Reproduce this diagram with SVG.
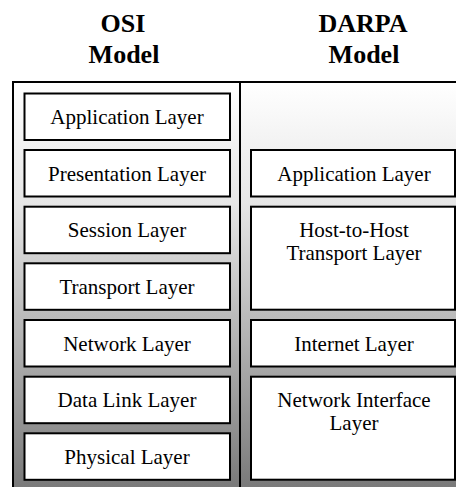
<svg xmlns="http://www.w3.org/2000/svg" width="456" height="487" viewBox="0 0 456 487" font-family="'Liberation Serif', Tinos, 'Times New Roman', serif">
<rect width="456" height="487" fill="#fff"/>
<linearGradient id="bg" x1="0" y1="82" x2="0" y2="487" gradientUnits="userSpaceOnUse">
<stop offset="0" stop-color="#ffffff"/>
<stop offset="0.3" stop-color="#e6e6e6"/>
<stop offset="1" stop-color="#7a7a7a"/>
</linearGradient>
<g id="frame">
<rect x="13" y="82" width="470" height="430" fill="url(#bg)" stroke="#000" stroke-width="2"/>
<line x1="240" y1="82" x2="240" y2="487" stroke="#000" stroke-width="2"/>
</g>
<g id="osi-application"><rect fill="#fff" stroke="#000" stroke-width="2" x="24.5" y="93.5" width="205.5" height="46.5"/></g>
<g id="osi-presentation"><rect fill="#fff" stroke="#000" stroke-width="2" x="24.5" y="150" width="205.5" height="46.5"/></g>
<g id="osi-session"><rect fill="#fff" stroke="#000" stroke-width="2" x="24.5" y="206.7" width="205.5" height="46.5"/></g>
<g id="osi-transport"><rect fill="#fff" stroke="#000" stroke-width="2" x="24.5" y="263.3" width="205.5" height="46.5"/></g>
<g id="osi-network"><rect fill="#fff" stroke="#000" stroke-width="2" x="24.5" y="320" width="205.5" height="46.5"/></g>
<g id="osi-datalink"><rect fill="#fff" stroke="#000" stroke-width="2" x="24.5" y="376.7" width="205.5" height="46.5"/></g>
<g id="osi-physical"><rect fill="#fff" stroke="#000" stroke-width="2" x="24.5" y="433.3" width="205.5" height="46.5"/></g>
<g id="darpa-application"><rect fill="#fff" stroke="#000" stroke-width="2" x="251" y="150" width="204" height="46.5"/></g>
<g id="darpa-host"><rect fill="#fff" stroke="#000" stroke-width="2" x="251" y="206.7" width="204" height="103"/></g>
<g id="darpa-internet"><rect fill="#fff" stroke="#000" stroke-width="2" x="251" y="320" width="204" height="46.5"/></g>
<g id="darpa-netif"><rect fill="#fff" stroke="#000" stroke-width="2" x="251" y="376.7" width="204" height="103"/></g>
<g id="connectors"/>
<text x="123" y="32" font-family="'Liberation Serif'" font-weight="bold" font-size="26" text-anchor="middle">OSI</text>
<text x="124" y="63" font-family="'Liberation Serif'" font-weight="bold" font-size="26" text-anchor="middle">Model</text>
<text x="363" y="32" font-family="'Liberation Serif'" font-weight="bold" font-size="26" text-anchor="middle">DARPA</text>
<text x="364" y="63" font-family="'Liberation Serif'" font-weight="bold" font-size="26" text-anchor="middle">Model</text>
<text x="127" y="124" font-family="'Liberation Serif'" font-size="21" text-anchor="middle">Application Layer</text>
<text x="127" y="180.7" font-family="'Liberation Serif'" font-size="21" text-anchor="middle">Presentation Layer</text>
<text x="127" y="237.3" font-family="'Liberation Serif'" font-size="21" text-anchor="middle">Session Layer</text>
<text x="127" y="294" font-family="'Liberation Serif'" font-size="21" text-anchor="middle">Transport Layer</text>
<text x="127" y="350.7" font-family="'Liberation Serif'" font-size="21" text-anchor="middle">Network Layer</text>
<text x="127" y="407.3" font-family="'Liberation Serif'" font-size="21" text-anchor="middle">Data Link Layer</text>
<text x="127" y="464" font-family="'Liberation Serif'" font-size="21" text-anchor="middle">Physical Layer</text>
<text x="354" y="180.7" font-family="'Liberation Serif'" font-size="21" text-anchor="middle">Application Layer</text>
<text x="354" y="236.7" font-family="'Liberation Serif'" font-size="21" text-anchor="middle">Host-to-Host</text>
<text x="354" y="260" font-family="'Liberation Serif'" font-size="21" text-anchor="middle">Transport Layer</text>
<text x="354" y="350.7" font-family="'Liberation Serif'" font-size="21" text-anchor="middle">Internet Layer</text>
<text x="354" y="407.3" font-family="'Liberation Serif'" font-size="21" text-anchor="middle">Network Interface</text>
<text x="354" y="430" font-family="'Liberation Serif'" font-size="21" text-anchor="middle">Layer</text>
</svg>
